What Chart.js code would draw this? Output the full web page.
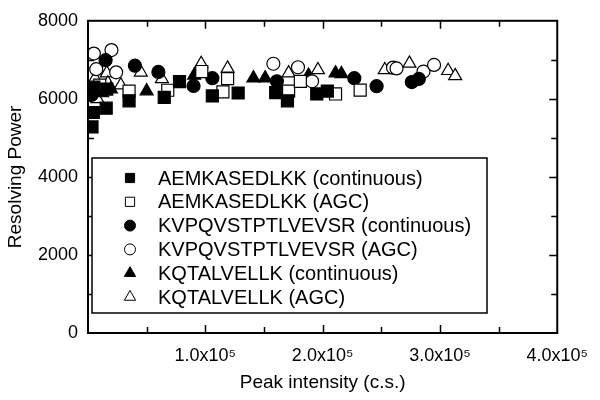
<!DOCTYPE html>
<html><head><meta charset="utf-8">
<script src="https://cdn.jsdelivr.net/npm/chart.js@4"></script>
<style>html,body{margin:0;padding:0;background:#fff}</style>
</head><body>
<canvas id="c" width="600" height="400"></canvas>
<script>
// ---- data ----
const seriesLabels = [
  'AEMKASEDLKK (continuous)',
  'AEMKASEDLKK (AGC)',
  'KVPQVSTPTLVEVSR (continuous)',
  'KVPQVSTPTLVEVSR (AGC)',
  'KQTALVELLK (continuous)',
  'KQTALVELLK (AGC)'
];
const aemkContinuous = [[3400,5280],[4500,5650],[15500,5760],[5000,6300],[16000,6250],[35000,5950],[65000,6040],[78000,6440],[106000,6075],[128000,6150],[160000,6160],[170000,5950],[195000,6125],[204000,6200]];
const aemkAGC = [[10000,6350],[35000,6200],[68000,6220],[97000,6700],[115000,6180],[119000,6520],[171000,6200],[181000,6450],[211000,6125],[232000,6225]];
const kvpqContinuous = [[3000,6100],[15000,6990],[40000,6850],[60000,6690],[90000,6330],[106000,6530],[161000,6450],[227000,6530],[246000,6325],[276000,6430],[282000,6510]];
const kvpqAGC = [[5000,7160],[20000,7250],[7000,6760],[24000,6680],[158000,6900],[179000,6810],[191000,6450],[260000,6800],[263000,6780],[286000,6700],[295000,6870]];
const kqtaContinuous = [[4000,6220],[12000,6150],[19500,6250],[50000,6200],[90500,6600],[141000,6530],[151000,6530],[188000,6600],[211000,6660],[216000,6640]];
const kqtaAGC = [[6000,6520],[8000,6000],[16000,6660],[17000,6400],[28000,6350],[45000,6680],[63000,6510],[96500,6900],[119000,6780],[171000,6660],[196000,6740],[253000,6740],[274000,6910],[307000,6720],[313000,6590]];
const xTickValues = [100000,200000,300000,400000];
const xTickLabels = ['1.0x10\u2075','2.0x10\u2075','3.0x10\u2075','4.0x10\u2075'];
const yTickValues = [0,2000,4000,6000,8000];
const yTickLabels = ['0','2000','4000','6000','8000'];
const xTitle = 'Peak intensity (c.s.)';
const yTitle = 'Resolving Power';

const FONT = '"Liberation Sans", Arial, Helvetica, sans-serif';
const styles = [
  {pointStyle:'rect', radius:8.5, fill:'#000'},
  {pointStyle:'rect', radius:8.5, fill:'#fff'},
  {pointStyle:'circle', radius:6.5, fill:'#000'},
  {pointStyle:'circle', radius:6.5, fill:'#fff'},
  {pointStyle:'triangle', radius:7.5, fill:'#000'},
  {pointStyle:'triangle', radius:7.5, fill:'#fff'}
];
const seriesData = [aemkContinuous, aemkAGC, kvpqContinuous, kvpqAGC, kqtaContinuous, kqtaAGC];

const datasets = seriesData.map((arr, i) => ({
  label: seriesLabels[i],
  data: arr.map(p => ({x: p[0], y: p[1]})),
  pointStyle: styles[i].pointStyle,
  pointRadius: styles[i].radius,
  pointHoverRadius: styles[i].radius,
  backgroundColor: styles[i].fill,
  borderColor: '#000',
  borderWidth: 1.2,
  clip: 0
}));

const framePlugin = {
  id: 'frame',
  afterDraw(chart) {
    const {ctx, chartArea: a, scales: {x, y}} = chart;
    ctx.save();
    ctx.strokeStyle = '#000';
    ctx.lineWidth = 2;
    ctx.strokeRect(a.left, a.top, a.right - a.left, a.bottom - a.top);
    ctx.lineWidth = 1.5;
    ctx.beginPath();
    for (let v = 50000; v < 400000; v += 50000) {
      const px = Math.round(x.getPixelForValue(v)) + 0.5;
      const len = (v % 100000 === 0) ? 8 : 6;
      ctx.moveTo(px, a.bottom); ctx.lineTo(px, a.bottom - len);
      ctx.moveTo(px, a.top); ctx.lineTo(px, a.top + len);
    }
    for (let v = 1000; v < 8000; v += 1000) {
      const py = Math.round(y.getPixelForValue(v)) + 0.5;
      const len = (v % 2000 === 0) ? 8 : 6;
      ctx.moveTo(a.left, py); ctx.lineTo(a.left + len, py);
      ctx.moveTo(a.right, py); ctx.lineTo(a.right - len, py);
    }
    ctx.stroke();

    // legend box
    const bx = a.left + 4, by = 158, bw = 395, bh = 155;
    ctx.fillStyle = '#fff';
    ctx.fillRect(bx, by, bw, bh);
    ctx.lineWidth = 1.5;
    ctx.strokeRect(bx, by, bw, bh);
    ctx.font = '20px ' + FONT;
    ctx.textBaseline = 'middle';
    ctx.textAlign = 'left';
    const legendSizes = [6.5, 6.5, 5.5, 5.5, 6.5, 6.5];
    for (let i = 0; i < seriesLabels.length; i++) {
      const cy = 178 + i * 23.8;
      const mx = bx + 38;
      ctx.fillStyle = styles[i].fill;
      ctx.strokeStyle = '#000';
      ctx.lineWidth = 1;
      Chart.helpers.drawPoint(ctx, {pointStyle: styles[i].pointStyle, radius: legendSizes[i], borderWidth: 1, rotation: 0}, mx, cy);
      ctx.fillStyle = '#000';
      ctx.fillText(seriesLabels[i], bx + 66, cy + 1);
    }
    ctx.restore();
  }
};

new Chart(document.getElementById('c'), {
  type: 'scatter',
  data: {datasets},
  options: {
    responsive: false,
    animation: false,
    events: [],
    layout: {padding: {left: 0, right: 41, top: 13, bottom: 0}},
    plugins: {legend: {display: false}, tooltip: {enabled: false}},
    scales: {
      x: {
        type: 'linear', min: 0, max: 400000,
        afterBuildTicks: s => { s.ticks = xTickValues.map(v => ({value: v})); },
        afterFit: s => { s.height = 67; },
        grid: {display: false, drawTicks: false},
        border: {display: false},
        ticks: {
          color: '#000', font: {family: FONT, size: 18}, padding: 12, maxRotation: 0,
          callback: v => { const i = xTickValues.indexOf(v); return i >= 0 ? xTickLabels[i] : ''; }
        },
        title: {display: true, text: xTitle, color: '#000', font: {family: FONT, size: 19}, padding: {top: 4, bottom: 6}}
      },
      y: {
        type: 'linear', min: 0, max: 8000,
        afterBuildTicks: s => { s.ticks = yTickValues.map(v => ({value: v})); },
        afterFit: s => { s.width = 88; },
        grid: {display: false, drawTicks: false},
        border: {display: false},
        ticks: {
          color: '#000', font: {family: FONT, size: 18}, padding: 10,
          callback: v => { const i = yTickValues.indexOf(v); return i >= 0 ? yTickLabels[i] : ''; }
        },
        title: {display: true, text: yTitle, color: '#000', font: {family: FONT, size: 19}, padding: {top: 4, bottom: 4}}
      }
    }
  },
  plugins: [framePlugin]
});
</script>
</body></html>
